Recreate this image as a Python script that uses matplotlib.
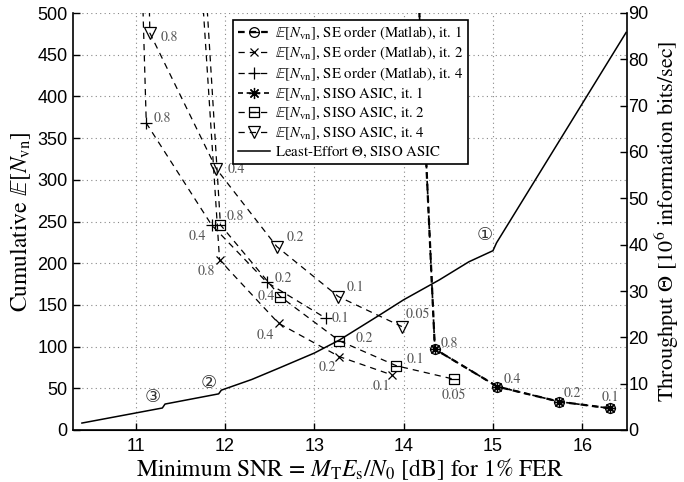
import matplotlib
matplotlib.use('Agg')
import matplotlib.pyplot as plt
from matplotlib.path import Path

plt.rcParams['mathtext.fontset'] = 'stix'
plt.rcParams['font.family'] = ['STIXGeneral', 'DejaVu Serif']

# ---------------- data ----------------
# SE order (Matlab), it. 1
se1_snr = [14.09, 14.35, 15.05, 15.74, 16.31]
se1_nvn = [700, 97, 52, 34, 26]
se1_lab = [None, '0.8', '0.4', '0.2', '0.1']
# SE order (Matlab), it. 2
se2_snr = [11.64, 11.94, 12.60, 13.28, 13.87]
se2_nvn = [700, 204, 128, 88, 66]
se2_lab = [None, '0.8', '0.4', '0.2', '0.1']
# SE order (Matlab), it. 4
se4_snr = [11.03, 11.12, 11.85, 12.47, 13.13]
se4_nvn = [700, 368, 246, 177, 134]
se4_lab = [None, '0.8', '0.4', '0.2', '0.1']
# SISO ASIC, it. 1
as1_snr = [14.09, 14.35, 15.05, 15.74, 16.31]
as1_nvn = [700, 97, 52, 34, 26]
# SISO ASIC, it. 2
as2_snr = [11.69, 11.95, 12.62, 13.28, 13.92, 14.56]
as2_nvn = [700, 246, 160, 107, 77, 61]
as2_lab = [None, '0.8', '0.4', '0.2', '0.1', '0.05']
# SISO ASIC, it. 4
as4_snr = [11.12, 11.16, 11.905, 12.58, 13.27, 13.98]
as4_nvn = [700, 476, 313, 220, 160, 124]
as4_lab = [None, '0.8', '0.4', '0.2', '0.1', '0.05']
# Least-effort throughput, SISO ASIC
thr_snr = [10.40, 11.30, 11.33, 11.93, 11.96, 12.30, 12.61, 13.00, 13.28, 13.73,
           14.00, 14.40, 14.73, 15.00, 15.04, 16.49]
thr_val = [1.5, 4.75, 5.6, 7.8, 8.6, 10.9, 13.4, 16.6, 19.4, 24.8,
           28.1, 32.4, 36.3, 38.7, 40.4, 85.8]
circ_lab = ['\u2462', '\u2461', '\u2460']
circ_snr = [11.19, 11.82, 14.91]
circ_thr = [7.1, 10.1, 42.1]

x_ticks = [11, 12, 13, 14, 15, 16]
yl_ticks = list(range(0, 501, 50))
yr_ticks = list(range(0, 91, 10))

# label offsets in points (dx, dy) for each series
se2_off = [None, (-3, -8.5), (-3, -8.5), (-2, -8), (-1, -8)]
se4_off = [None, (5, 3.6), (-4, -8), (5.8, 3), (4.3, 0)]
as2_off = [None, (4.3, 5.8), (-4, 0), (11.5, 1.5), (7, 5), (0, -12)]
as4_off = [None, (8, -3), (8, 0), (7, 6.5), (6, 6.5), (3, 9)]
as1_off = [None, (4.3, 4.3), (4.3, 5), (3, 5.8), (0, 8)]

# ---------------- markers ----------------
circ_minus = Path.make_compound_path(Path.unit_circle(),
                                     Path([[-1, 0], [1, 0]], [Path.MOVETO, Path.LINETO]))
sq = Path([[-1, -1], [1, -1], [1, 1], [-1, 1], [-1, -1]],
          [Path.MOVETO, Path.LINETO, Path.LINETO, Path.LINETO, Path.CLOSEPOLY])
sq_minus = Path.make_compound_path(sq, Path([[-1, 0], [1, 0]], [Path.MOVETO, Path.LINETO]))

fig = plt.figure(figsize=(6.84, 4.82), dpi=100)
ax = fig.add_axes([73/684, 1-430/482, 554/684, 417/482])
ax2 = ax.twinx()

lab_color = '#555555'
dash = (5, 4)

def series(x, y, marker, ms, lw=0.9, mew=0.9, label=None, dashes=dash):
    h, = ax.plot(x, y, color='k', lw=lw, dashes=dashes, marker=marker, ms=ms,
                 mfc='none', mec='k', mew=mew, markevery=list(range(1, len(x))),
                 label=label, clip_on=True)
    return h

def labels(x, y, labs, offs):
    for xi, yi, l, o in zip(x, y, labs, offs):
        if l is None:
            continue
        ha = 'left' if o[0] > 2 else ('right' if o[0] < -0.5 else 'center')
        ax.annotate(l, (xi, yi), xytext=o, textcoords='offset points',
                    ha=ha, va='center', fontsize=10, color=lab_color)

E = r'$\mathbb{E}[N_{\rm vn}]$'
h1 = series(se1_snr, se1_nvn, circ_minus, 7, lw=1.6, dashes=(3, 2.2),
            label=E + ', SE order (Matlab), it. 1')
h2 = series(se2_snr, se2_nvn, 'x', 5.5, label=E + ', SE order (Matlab), it. 2')
h3 = series(se4_snr, se4_nvn, '+', 8, label=E + ', SE order (Matlab), it. 4')
h4 = series(as1_snr, as1_nvn, (8, 2, 0), 8, lw=1.2, dashes=(3, 2.2),
            label=E + ', SISO ASIC, it. 1')
h5 = series(as2_snr, as2_nvn, sq_minus, 6.5, label=E + ', SISO ASIC, it. 2')
h6 = series(as4_snr, as4_nvn, 'v', 8.5, label=E + ', SISO ASIC, it. 4')

labels(se2_snr, se2_nvn, se2_lab, se2_off)
labels(se4_snr, se4_nvn, se4_lab, se4_off)
labels(as2_snr, as2_nvn, as2_lab, as2_off)
labels(as4_snr, as4_nvn, as4_lab, as4_off)
labels(as1_snr, as1_nvn, se1_lab, as1_off)

h7, = ax2.plot(thr_snr, thr_val, color='k', lw=1.1,
               label=r'Least-Effort $\Theta$, SISO ASIC')
for t, xs, ys in zip(circ_lab, circ_snr, circ_thr):
    ax2.text(xs, ys, t, ha='center', va='center', fontsize=13, color='#333333',
             family=['DejaVu Sans', 'Noto Sans CJK SC'])

ax.set_xlim(10.3, 16.5)
ax.set_ylim(0, 500)
ax2.set_ylim(0, 90)
ax.set_xticks(x_ticks)
ax.set_yticks(yl_ticks)
ax2.set_yticks(yr_ticks)
ax.grid(True, color='#888888', linestyle=(0, (1, 3)), lw=0.8)
for a in (ax, ax2):
    a.spines['top'].set_visible(False)
    a.tick_params(direction='in', length=5, width=1, labelsize=13)
    for t in a.get_xticklabels() + a.get_yticklabels():
        t.set_family('Liberation Sans')
ax2.spines['left'].set_visible(False)
ax.spines['right'].set_visible(False)
for s in ['left', 'bottom']:
    ax.spines[s].set_linewidth(1.2)
ax2.spines['right'].set_linewidth(1.2)
ax.tick_params(axis='y', pad=4)
ax.tick_params(axis='x', pad=6)
ax2.tick_params(axis='y', pad=1)

ax.set_xlabel(r'Minimum SNR = $M_{\rm T}E_{\rm s}/N_0$ [dB] for 1% FER',
              fontsize=17, labelpad=1)
ax.set_ylabel(r'Cumulative $\mathbb{E}[N_{\rm vn}]$', fontsize=17, labelpad=3)
ax2.set_ylabel(r'Throughput $\Theta$ [$10^6$ information bits/sec]', fontsize=16,
               labelpad=3)

leg = ax2.legend(handles=[h1, h2, h3, h4, h5, h6, h7], loc='upper left',
                 bbox_to_anchor=(0.289, 0.983), fontsize=10.7, handlelength=2.2,
                 handletextpad=0.3, borderpad=0.3, labelspacing=0.2,
                 fancybox=False, framealpha=1, edgecolor='k', borderaxespad=0)
leg.get_frame().set_linewidth(1.2)

fig.savefig('out.png', dpi=100)
